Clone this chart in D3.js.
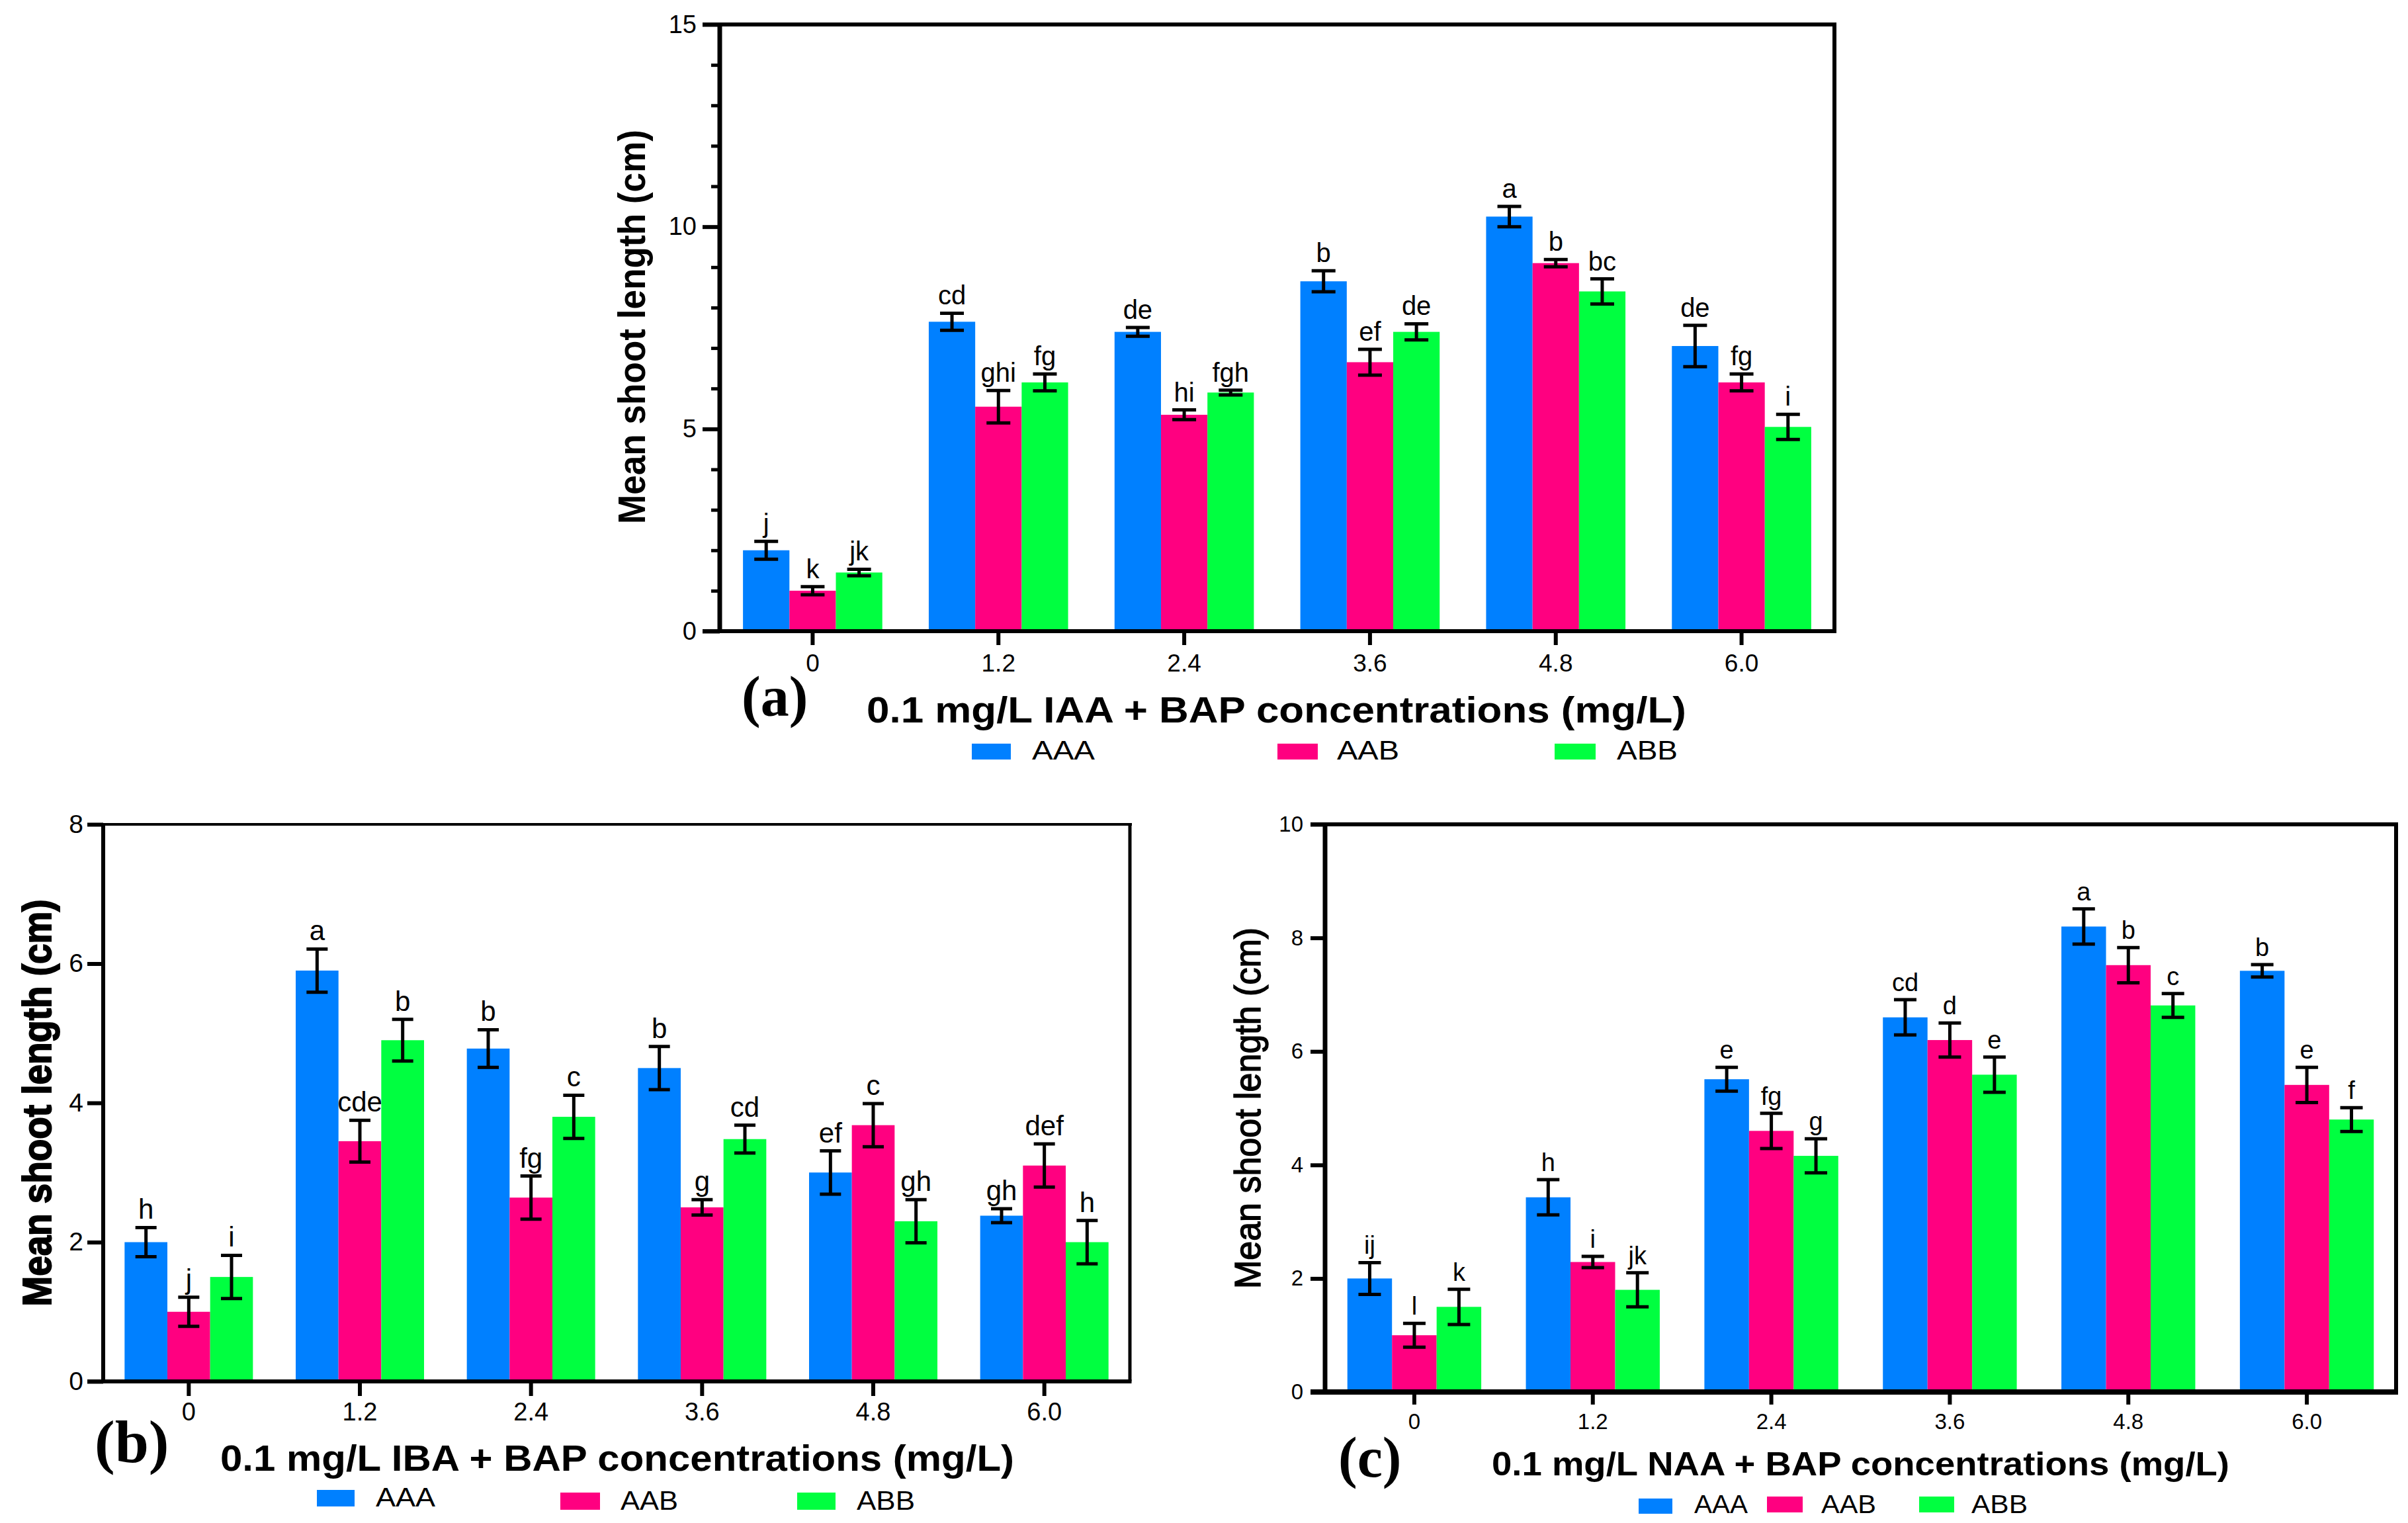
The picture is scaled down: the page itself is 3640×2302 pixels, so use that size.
<!DOCTYPE html>
<html>
<head>
<meta charset="utf-8">
<script src="https://cdn.jsdelivr.net/npm/d3@7"></script>
<style>
  body { margin: 0; background: #fff; }
  svg { display: block; font-family: "Liberation Sans", Arial, sans-serif; }
</style>
</head>
<body>
<script>
'use strict';

// Categories and series
const concentrations = ["0", "1.2", "2.4", "3.6", "4.8", "6.0"];
const genomes = ["AAA", "AAB", "ABB"];
const colors = ["#0080ff", "#ff0080", "#00ff40"];

// (a) IAA + BAP : rows = AAA, AAB, ABB
const iaaMeans = [
  [2.0, 7.65, 7.4, 8.65, 10.25, 7.05],
  [1.0, 5.55, 5.35, 6.65, 9.1, 6.15],
  [1.45, 6.15, 5.9, 7.4, 8.4, 5.05]
];
const iaaErrors = [
  [0.22, 0.21, 0.11, 0.26, 0.25, 0.51],
  [0.1, 0.4, 0.12, 0.32, 0.09, 0.21],
  [0.08, 0.21, 0.06, 0.2, 0.31, 0.31]
];
const iaaLetters = [
  ["j", "cd", "de", "b", "a", "de"],
  ["k", "ghi", "hi", "ef", "b", "fg"],
  ["jk", "fg", "fgh", "de", "bc", "i"]
];

// (b) IBA + BAP
const ibaMeans = [
  [2.0, 5.9, 4.78, 4.5, 3.0, 2.38],
  [1.0, 3.45, 2.64, 2.5, 3.68, 3.1],
  [1.5, 4.9, 3.8, 3.48, 2.3, 2.0]
];
const ibaErrors = [
  [0.21, 0.31, 0.27, 0.31, 0.31, 0.1],
  [0.21, 0.3, 0.31, 0.11, 0.31, 0.31],
  [0.31, 0.3, 0.31, 0.2, 0.31, 0.31]
];
const ibaLetters = [
  ["h", "a", "b", "b", "ef", "gh"],
  ["j", "cde", "fg", "g", "c", "def"],
  ["i", "b", "c", "cd", "gh", "h"]
];

// (c) NAA + BAP
const naaMeans = [
  [2.0, 3.43, 5.51, 6.6, 8.2, 7.42],
  [1.0, 2.29, 4.6, 6.2, 7.52, 5.41],
  [1.5, 1.8, 4.16, 5.59, 6.81, 4.8]
];
const naaErrors = [
  [0.28, 0.31, 0.21, 0.31, 0.31, 0.11],
  [0.21, 0.1, 0.31, 0.3, 0.31, 0.31],
  [0.31, 0.3, 0.3, 0.31, 0.21, 0.21]
];
const naaLetters = [
  ["ij", "h", "e", "cd", "a", "b"],
  ["l", "i", "fg", "d", "b", "e"],
  ["k", "jk", "g", "e", "c", "f"]
];

// Axis ticks
const yTicksA = [0, 5, 10, 15];
const yMinorA = [1, 2, 3, 4, 6, 7, 8, 9, 11, 12, 13, 14];
const yTicksB = [0, 2, 4, 6, 8];
const yTicksC = [0, 2, 4, 6, 8, 10];

const yLabel = "Mean shoot length (cm)";

const svg = d3.select("body").append("svg")
  .attr("width", 3640)
  .attr("height", 2302);

function drawPanel(p) {
  const g = svg.append("g");

  const x = d3.scaleBand()
    .domain(concentrations)
    .range([p.x0, p.x1])
    .paddingInner(0.25)
    .paddingOuter(0.125);
  const xs = d3.scaleBand()
    .domain(genomes)
    .range([0, x.bandwidth()]);
  const y = d3.scaleLinear()
    .domain([0, p.yMax])
    .range([p.y0, p.yTop]);

  // bars, error bars and letters
  genomes.forEach((gen, si) => {
    const rows = concentrations.map((c, i) => ({
      c: c, m: p.means[si][i], e: p.errors[si][i], l: p.letters[si][i]
    }));
    const sg = g.append("g");
    sg.selectAll("rect")
      .data(rows)
      .enter()
      .append("rect")
      .attr("x", d => x(d.c) + xs(gen))
      .attr("y", d => y(d.m))
      .attr("width", xs.bandwidth())
      .attr("height", d => y(0) - y(d.m))
      .style("fill", colors[si]);

    const cx = d => x(d.c) + xs(gen) + xs.bandwidth() / 2;
    sg.selectAll(".err")
      .data(rows)
      .enter()
      .append("line")
      .attr("x1", cx).attr("x2", cx)
      .attr("y1", d => y(d.m - d.e))
      .attr("y2", d => y(d.m + d.e))
      .style("stroke", "#000")
      .style("stroke-width", 5);
    [-1, 1].forEach(s => {
      sg.selectAll(".cap" + s)
        .data(rows)
        .enter()
        .append("line")
        .attr("x1", d => cx(d) - p.cap / 2)
        .attr("x2", d => cx(d) + p.cap / 2)
        .attr("y1", d => y(d.m + s * d.e))
        .attr("y2", d => y(d.m + s * d.e))
        .style("stroke", "#000")
        .style("stroke-width", 5);
    });
    sg.selectAll("text")
      .data(rows)
      .enter()
      .append("text")
      .attr("x", cx)
      .attr("y", d => y(d.m + d.e) - 13)
      .attr("text-anchor", "middle")
      .style("font-size", p.letterSize + "px")
      .text(d => d.l);
  });

  // y axis
  const yAxis = g.append("g")
    .attr("transform", `translate(${p.x0},0)`)
    .call(d3.axisLeft(y).tickValues(p.yTicks).tickSize(p.yTick).tickPadding(p.yPad));
  yAxis.select(".domain").remove();
  yAxis.selectAll("line").style("stroke", "#000").style("stroke-width", 6);
  yAxis.selectAll("text")
    .style("font-size", p.yFont + "px")
    .style("fill", "#000");

  if (p.yMinor) {
    const minor = g.append("g")
      .attr("transform", `translate(${p.x0},0)`)
      .call(d3.axisLeft(y).tickValues(p.yMinor).tickSize(13).tickFormat(""));
    minor.select(".domain").remove();
    minor.selectAll("line").style("stroke", "#000").style("stroke-width", 5);
  }

  // frame
  g.append("line")
    .attr("x1", p.x0 - p.yTick).attr("x2", p.x1 + 3)
    .attr("y1", p.yTop).attr("y2", p.yTop)
    .style("stroke", "#000").style("stroke-width", p.topW);
  g.append("line")
    .attr("x1", p.x1).attr("x2", p.x1)
    .attr("y1", p.yTop).attr("y2", p.y0)
    .style("stroke", "#000").style("stroke-width", p.rightW);
  g.append("line")
    .attr("x1", p.x0).attr("x2", p.x0)
    .attr("y1", p.yTop - p.topW / 2).attr("y2", p.y0)
    .style("stroke", "#000").style("stroke-width", p.leftW);

  // x axis
  const xAxis = g.append("g")
    .attr("transform", `translate(0,${p.y0})`)
    .call(d3.axisBottom(x).tickSize(p.xTick));
  xAxis.select(".domain").remove();
  xAxis.selectAll("line").style("stroke", "#000").style("stroke-width", 6);
  xAxis.selectAll("text")
    .attr("y", p.xLabelY)
    .attr("dy", null)
    .style("font-size", p.xFont + "px")
    .style("fill", "#000");
  g.append("line")
    .attr("x1", p.x0 - p.yTick).attr("x2", p.x1 + p.rightW / 2)
    .attr("y1", p.y0).attr("y2", p.y0)
    .style("stroke", "#000").style("stroke-width", p.bottomW);

  // axis titles
  g.append("text")
    .attr("transform", `translate(${p.yTitleX},${p.yTitleY}) rotate(-90)`)
    .attr("text-anchor", "middle")
    .attr("textLength", p.yTitleLen)
    .attr("lengthAdjust", "spacingAndGlyphs")
    .style("font-size", p.yTitleSize + "px")
    .style("font-weight", p.yTitleWeight)
    .style("stroke", "#000")
    .style("stroke-width", p.yTitleStroke)
    .text(yLabel);

  g.append("text")
    .attr("x", p.xTitleX)
    .attr("y", p.xTitleY)
    .attr("textLength", p.xTitleLen)
    .attr("lengthAdjust", "spacingAndGlyphs")
    .style("font-size", p.xTitleSize + "px")
    .style("font-weight", "bold")
    .text(p.xTitle);

  g.append("text")
    .attr("x", p.tagX)
    .attr("y", p.tagY)
    .style("font-family", "'Liberation Serif', 'Times New Roman', serif")
    .style("font-weight", "bold")
    .style("font-size", p.tagSize + "px")
    .text(p.tag);

  // legend
  const lg = g.append("g");
  genomes.forEach((gen, i) => {
    const L = p.legend[i];
    lg.append("rect")
      .attr("x", L.x).attr("y", L.y)
      .attr("width", L.w).attr("height", L.h)
      .style("fill", colors[i]);
    lg.append("text")
      .attr("x", L.tx).attr("y", L.ty)
      .attr("textLength", L.tl)
      .attr("lengthAdjust", "spacingAndGlyphs")
      .style("font-size", p.legendSize + "px")
      .text(gen);
  });
}

drawPanel({
  means: iaaMeans, errors: iaaErrors, letters: iaaLetters,
  x0: 1088, x1: 2773, y0: 954, yTop: 37, yMax: 15,
  yTicks: yTicksA, yMinor: yMinorA, yTick: 26, yPad: 9, yFont: 38,
  xTick: 21, xLabelY: 61, xFont: 37,
  leftW: 7, bottomW: 6, topW: 6, rightW: 6,
  cap: 36, letterSize: 40,
  yTitleX: 975, yTitleY: 494, yTitleLen: 596, yTitleSize: 58, yTitleWeight: "bold", yTitleStroke: 0,
  xTitle: "0.1 mg/L IAA + BAP concentrations (mg/L)",
  xTitleX: 1310, xTitleY: 1092, xTitleLen: 1239, xTitleSize: 56,
  tag: "(a)", tagX: 1121, tagY: 1082, tagSize: 86,
  legendSize: 40,
  legend: [
    {x: 1469, y: 1124, w: 59, h: 24, tx: 1560, ty: 1148, tl: 95},
    {x: 1931, y: 1124, w: 61, h: 24, tx: 2021, ty: 1148, tl: 94},
    {x: 2350, y: 1124, w: 62, h: 24, tx: 2444, ty: 1148, tl: 92}
  ]
});

drawPanel({
  means: ibaMeans, errors: ibaErrors, letters: ibaLetters,
  x0: 156, x1: 1708, y0: 2088, yTop: 1246, yMax: 8,
  yTicks: yTicksB, yMinor: null, yTick: 24, yPad: 6, yFont: 39,
  xTick: 22, xLabelY: 59, xFont: 38,
  leftW: 6, bottomW: 6, topW: 4, rightW: 5,
  cap: 32, letterSize: 42,
  yTitleX: 77, yTitleY: 1667, yTitleLen: 615, yTitleSize: 62, yTitleWeight: "bold", yTitleStroke: 2,
  xTitle: "0.1 mg/L IBA + BAP concentrations (mg/L)",
  xTitleX: 333, xTitleY: 2223, xTitleLen: 1200, xTitleSize: 56,
  tag: "(b)", tagX: 143, tagY: 2210, tagSize: 92,
  legendSize: 40,
  legend: [
    {x: 479, y: 2252, w: 57, h: 25, tx: 568, ty: 2277, tl: 90},
    {x: 847, y: 2256, w: 60, h: 26, tx: 938, ty: 2282, tl: 87},
    {x: 1205, y: 2256, w: 58, h: 26, tx: 1295, ty: 2282, tl: 88}
  ]
});

drawPanel({
  means: naaMeans, errors: naaErrors, letters: naaLetters,
  x0: 2003, x1: 3622, y0: 2104, yTop: 1246, yMax: 10,
  yTicks: yTicksC, yMinor: null, yTick: 22, yPad: 11, yFont: 33,
  xTick: 19, xLabelY: 56, xFont: 33,
  leftW: 7, bottomW: 8, topW: 6, rightW: 6,
  cap: 34, letterSize: 38,
  yTitleX: 1905, yTitleY: 1675, yTitleLen: 546, yTitleSize: 55, yTitleWeight: "normal", yTitleStroke: 1.5,
  xTitle: "0.1 mg/L NAA + BAP concentrations (mg/L)",
  xTitleX: 2255, xTitleY: 2230, xTitleLen: 1115, xTitleSize: 50,
  tag: "(c)", tagX: 2023, tagY: 2232, tagSize: 86,
  legendSize: 38,
  legend: [
    {x: 2477, y: 2265, w: 51, h: 23, tx: 2561, ty: 2287, tl: 81},
    {x: 2671, y: 2262, w: 54, h: 24, tx: 2753, ty: 2287, tl: 83},
    {x: 2901, y: 2262, w: 53, h: 24, tx: 2980, ty: 2287, tl: 85}
  ]
});
</script>
</body>
</html>
